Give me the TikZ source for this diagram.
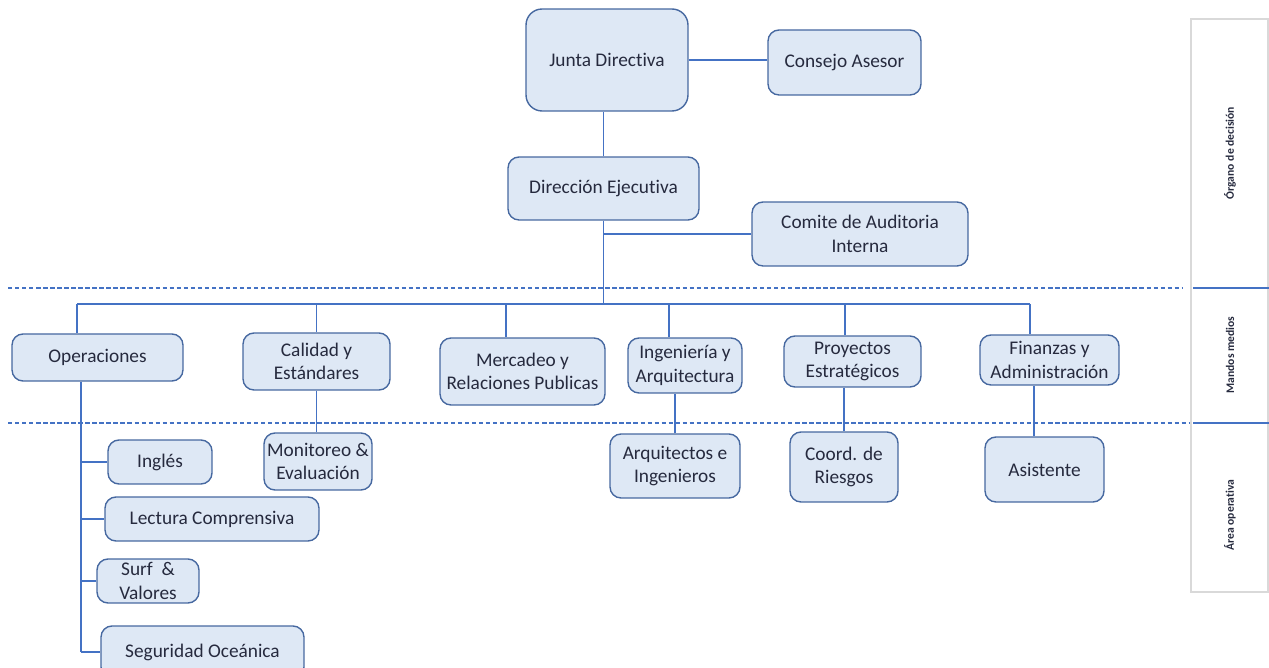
\documentclass[tikz,border=0pt]{standalone}
\usepackage{fontspec}
\setmainfont{Carlito}[Ligatures=NoCommon]
\usepackage{tikz}
\usepackage{xcolor}
\definecolor{boxfill}{RGB}{222,232,245}
\definecolor{boxline}{RGB}{70,104,160}
\definecolor{linkblue}{RGB}{68,114,196}
\definecolor{inkdark}{RGB}{38,42,62}
\definecolor{panelgray}{RGB}{217,217,217}
\tikzstyle{unit} = [rectangle, draw=boxline, fill=boxfill, rounded corners=0.22cm, line width=0.8pt, align=center, text=inkdark, font=\fontsize{11}{13.5}\selectfont, inner sep=1pt]
\tikzstyle{link} = [draw=linkblue, line width=0.8pt]
\tikzstyle{level} = [draw=linkblue, line width=0.6pt, dash pattern=on 2.5pt off 1.5pt]
\tikzstyle{side} = [rotate=90, text=inkdark, font=\fontsize{6.6}{7.5}\selectfont\bfseries]

\begin{document}
\begin{tikzpicture}[x=0.02cm,y=-0.02cm]
  \useasboundingbox (0,0) rectangle (1269,668);

  % levels
  \draw[level] (8,288) -- (1183,288);
  \draw[level] (8,423) -- (1190,423);
  \draw[draw=panelgray, line width=0.6pt] (1191,19) rectangle (1268,592);
  \draw[link, line width=0.6pt] (1193,288) -- (1269,288);
  \draw[link, line width=0.6pt] (1193,423) -- (1269,423);
  \node[side] (organo) at (1230,153) {Órgano de decisión};
  \node[side] (mandos) at (1230,355) {Mandos medios};
  \node[side] (area) at (1230,515) {Área operativa};

  % decision
  \node[unit, rounded corners=0.32cm, minimum width=3.24cm, minimum height=2.04cm] (junta) at (607,60) {Junta Directiva};
  \node[unit, minimum width=3.06cm, minimum height=1.30cm] (consejo) at (844.5,62.5) {Consejo Asesor};
  \node[unit, minimum width=3.82cm, minimum height=1.26cm] (direccion) at (603.5,188.5) {Dirección Ejecutiva};
  \node[unit, minimum width=4.32cm, minimum height=1.28cm] (comite) at (860,234) {Comite de Auditoria\\Interna};
  \coordinate (bus) at (601,304);

  % mandos medios
  \node[unit, minimum width=3.42cm, minimum height=0.94cm] (operaciones) at (97.5,357.5) {Operaciones};
  \node[unit, minimum width=2.94cm, minimum height=1.14cm] (calidad) at (316.5,361.5) {Calidad y\\Estándares};
  \node[unit, minimum width=3.30cm, minimum height=1.34cm] (mercadeo) at (522.5,371.5) {Mercadeo y\\Relaciones Publicas};
  \node[unit, minimum width=2.28cm, minimum height=1.10cm] (ingenieria) at (685,365.5) {Ingeniería y\\Arquitectura};
  \node[unit, minimum width=2.74cm, minimum height=1.02cm] (proyectos) at (852.5,361.5) {Proyectos\\Estratégicos};
  \node[unit, minimum width=2.78cm, minimum height=1.00cm] (finanzas) at (1049.5,360) {Finanzas y\\Administración};

  % area operativa
  \node[unit, minimum width=2.16cm, minimum height=1.14cm] (monitoreo) at (318,461.5) {Monitoreo \&\\Evaluación};
  \node[unit, minimum width=2.60cm, minimum height=1.28cm] (arquitectos) at (675,466) {Arquitectos e\\Ingenieros};
  \node[unit, minimum width=2.16cm, minimum height=1.40cm] (coord) at (844,467) {Coord. de\\Riesgos};
  \node[unit, minimum width=2.38cm, minimum height=1.30cm] (asistente) at (1044.5,469.5) {Asistente};
  \node[unit, minimum width=2.08cm, minimum height=0.88cm] (ingles) at (160,462) {Inglés};
  \node[unit, minimum width=4.28cm, minimum height=0.88cm] (lectura) at (212,519) {Lectura Comprensiva};
  \node[unit, minimum width=2.04cm, minimum height=0.88cm] (surf) at (148,581) {Surf~~\&\\Valores};
  \node[unit, minimum width=4.06cm, minimum height=1.04cm] (seguridad) at (202.5,652) {Seguridad Oceánica};

  \path[link] (junta.east) edge (consejo.west |- junta.east);
  \path[link] (direccion.north) edge (direccion.north |- junta.south);
  \path[link] (direccion.south |- comite.west) edge (comite.west);
  \path[link] (direccion.south) edge (direccion.south |- bus);
  \path[link] ([xshift=-0.41cm]operaciones.north |- bus) edge ([xshift=-0.39cm]finanzas.north |- bus);
  \path[link] ([xshift=-0.41cm]operaciones.north |- bus) edge ([xshift=-0.41cm]operaciones.north);
  \path[link] (calidad.north |- bus) edge (calidad.north);
  \path[link] ([xshift=-0.33cm]mercadeo.north |- bus) edge ([xshift=-0.33cm]mercadeo.north);
  \path[link] ([xshift=-0.32cm]ingenieria.north |- bus) edge ([xshift=-0.32cm]ingenieria.north);
  \path[link] ([xshift=-0.15cm]proyectos.north |- bus) edge ([xshift=-0.15cm]proyectos.north);
  \path[link] ([xshift=-0.39cm]finanzas.north |- bus) edge ([xshift=-0.39cm]finanzas.north);

  \path[link] (calidad.south) edge (calidad.south |- monitoreo.north);
  \path[link] (arquitectos.north) edge (arquitectos.north |- ingenieria.south);
  \path[link] (coord.north) edge (coord.north |- proyectos.south);
  \path[link] ([xshift=-0.21cm]asistente.north) edge ([xshift=-0.21cm]asistente.north |- finanzas.south);

  \path[link] ([xshift=-0.33cm]operaciones.south) edge ([xshift=-0.33cm]operaciones.south |- seguridad.west);
  \path[link] ([xshift=-0.33cm]operaciones.south |- ingles.west) edge (ingles.west);
  \path[link] ([xshift=-0.33cm]operaciones.south |- lectura.west) edge (lectura.west);
  \path[link] ([xshift=-0.33cm]operaciones.south |- surf.west) edge (surf.west);
  \path[link] ([xshift=-0.33cm]operaciones.south |- seguridad.west) edge (seguridad.west);
\end{tikzpicture}
\end{document}
